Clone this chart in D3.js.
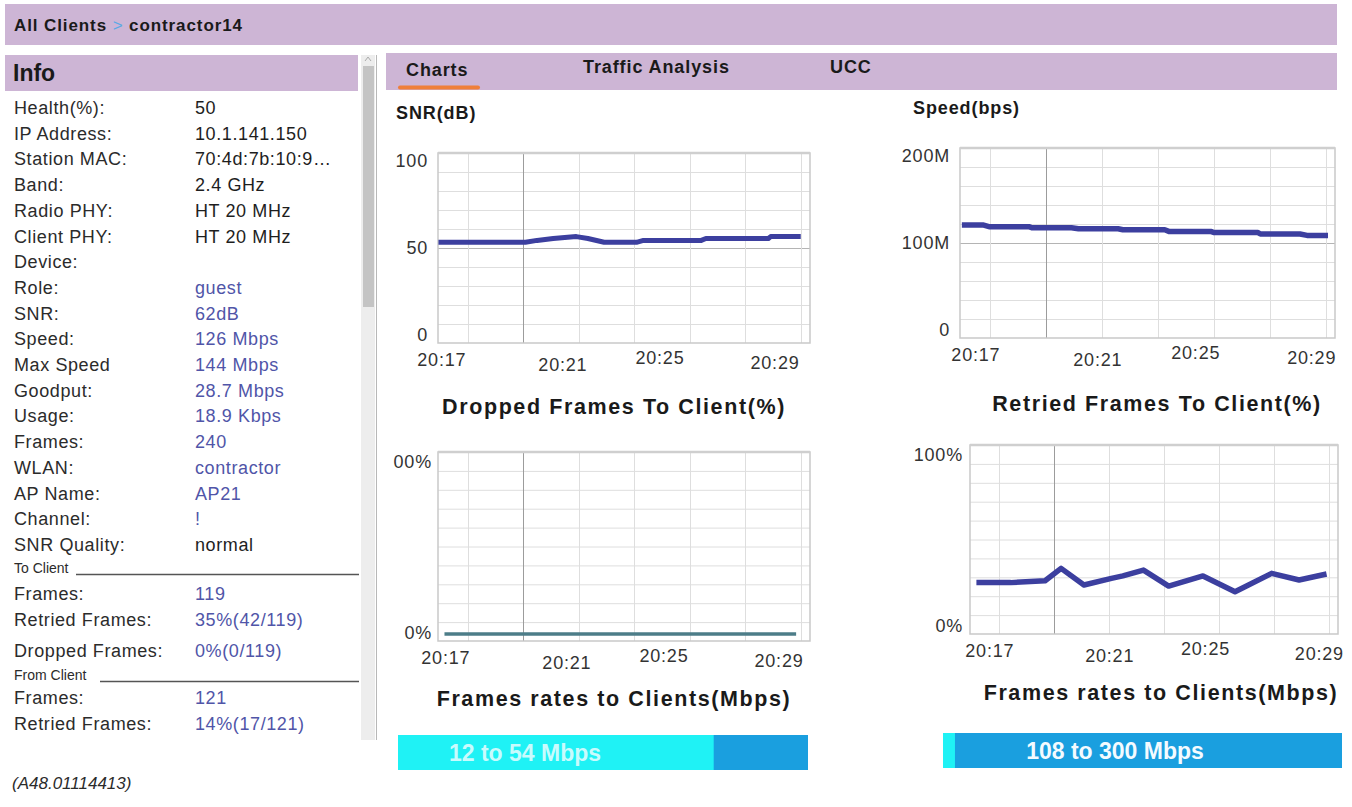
<!DOCTYPE html>
<html>
<head>
<meta charset="utf-8">
<script src="https://cdn.jsdelivr.net/npm/d3@7/dist/d3.min.js"></script>
<style>
    body { margin: 0; background: #fff; }
    svg { display: block; font-family: "Liberation Sans", Arial, sans-serif; }
    .lbl { font-size: 18px; fill: #2b2b2b; letter-spacing: 0.6px; }
    .val { font-size: 18px; fill: #1e1e1e; letter-spacing: 0.6px; }
    .blue { fill: #5055a8; }
    .small { font-size: 14px; fill: #2b2b2b; }
    .tick { font-size: 18px; fill: #333; letter-spacing: 0.8px; }
    .ctitle { font-size: 21.5px; font-weight: bold; fill: #1a1a1a; letter-spacing: 1.6px; }
    .htitle { font-size: 18px; font-weight: bold; fill: #1a1a1a; letter-spacing: 0.9px; }
</style>
</head>
<body>
<svg id="page" width="1352" height="807"></svg>
<script>
var parseT = d3.timeParse("%H:%M:%S");

// left info panel
var info_labels = ["Health(%):", "IP Address:", "Station MAC:", "Band:", "Radio PHY:", "Client PHY:", "Device:", "Role:", "SNR:",
    "Speed:", "Max Speed", "Goodput:", "Usage:", "Frames:", "WLAN:", "AP Name:", "Channel:", "SNR Quality:"];
var info_values = ["50", "10.1.141.150", "70:4d:7b:10:9\u2026", "2.4 GHz", "HT 20 MHz", "HT 20 MHz", "", "guest", "62dB",
    "126 Mbps", "144 Mbps", "28.7 Mbps", "18.9 Kbps", "240", "contractor", "AP21", "!", "normal"];
var to_labels = ["Frames:", "Retried Frames:", "Dropped Frames:"];
var to_values = ["119", "35%(42/119)", "0%(0/119)"];
var from_labels = ["Frames:", "Retried Frames:"];
var from_values = ["121", "14%(17/121)"];

var tabs = ["Charts", "Traffic Analysis", "UCC"];

// chart series
var snr_times = ["20:16:57", "20:20:05", "20:20:30", "20:21:05", "20:21:55", "20:22:20", "20:22:55", "20:24:05", "20:24:20",
    "20:26:25", "20:26:35", "20:28:50", "20:28:55", "20:30:00"];
var snr_values = [53, 53, 54, 55, 56, 55, 53, 53, 54, 54, 55, 55, 56, 56];

var speed_times = ["20:17:00", "20:17:45", "20:18:00", "20:19:25", "20:19:30", "20:20:55", "20:21:10", "20:22:35", "20:22:45",
    "20:24:15", "20:24:25", "20:25:55", "20:26:00", "20:27:35", "20:27:40", "20:29:05", "20:29:20", "20:30:05"];
var speed_values = [119e6, 119e6, 117e6, 117e6, 116e6, 116e6, 115e6, 115e6, 114e6, 114e6, 112e6, 112e6, 111e6, 111e6,
    109.5e6, 109.5e6, 108e6, 108e6];

var dropped_times = ["20:17:10", "20:21:00", "20:25:00", "20:29:50"];
var dropped_values = [0, 0, 0, 0];

var retried_times = ["20:17:10", "20:18:25", "20:19:40", "20:20:15", "20:21:05", "20:22:05", "20:22:30", "20:23:15",
    "20:24:10", "20:25:25", "20:26:35", "20:27:55", "20:28:55", "20:29:55"];
var retried_values = [25.8, 25.8, 26.9, 34.1, 24.4, 28.3, 29.7, 33.1, 23.8, 29.7, 20.5, 31.2, 27.3, 30.8];

var x_ticks = ["20:17:00", "20:21:00", "20:25:00", "20:29:00"];
var grid_times = ["20:18:00", "20:20:00", "20:22:00", "20:24:00", "20:26:00", "20:28:00", "20:30:00"];

var rate_labels = ["12 to 54 Mbps", "108 to 300 Mbps"];
var rate_shares = [0.77, 0.03];

var svg = d3.select("#page");
var lilac = "#cdb5d5";

// header bars
svg.append("rect").attr("x", 5).attr("y", 4).attr("width", 1332).attr("height", 41).attr("fill", lilac);
var crumb = svg.append("text").attr("x", 14).attr("y", 31).attr("class", "htitle").style("font-size", "17px");
crumb.append("tspan").text("All Clients");
crumb.append("tspan").attr("fill", "#5aa9e6").attr("font-weight", "normal").text(" > ");
crumb.append("tspan").text(" contractor14");

svg.append("rect").attr("x", 5).attr("y", 55).attr("width", 353).attr("height", 36).attr("fill", lilac);
svg.append("text").attr("x", 13).attr("y", 81).text("Info")
        .style("font-size", "23px").style("font-weight", "bold").attr("fill", "#1a1a1a");

// scrollbar
svg.append("rect").attr("x", 361).attr("y", 55).attr("width", 14).attr("height", 685).attr("fill", "#ededed");
svg.append("rect").attr("x", 363).attr("y", 66).attr("width", 11).attr("height", 241).attr("fill", "#c4c4c4");
svg.append("path").attr("d", "M365,61 L368,57 L371,61").attr("fill", "none").attr("stroke", "#aaa");
svg.append("line").attr("x1", 376.5).attr("x2", 376.5).attr("y1", 55).attr("y2", 740).attr("stroke", "#b8b8b8");

// info rows
var rowY = d3.scaleLinear().domain([0, info_labels.length - 1]).range([114, 551]);
var rows = info_labels.map(function (l, i) {
    return {label: l, value: info_values[i], blue: i >= 7 && i <= 16};
});
var rowG = svg.append("g");
rowG.selectAll(".lbl").data(rows).enter().append("text")
        .attr("class", "lbl").attr("x", 14).attr("y", function (d, i) { return rowY(i); })
        .text(function (d) { return d.label; });
rowG.selectAll(".val").data(rows).enter().append("text")
        .attr("class", function (d) { return d.blue ? "val blue" : "val"; })
        .attr("x", 195).attr("y", function (d, i) { return rowY(i); })
        .text(function (d) { return d.value; });

function section(title, lineX, y, labels, values, ys) {
    svg.append("text").attr("class", "small").attr("x", 14).attr("y", y).text(title);
    svg.append("line").attr("x1", lineX).attr("x2", 359).attr("y1", y + 1.5).attr("y2", y + 1.5)
            .attr("stroke", "#555").attr("stroke-width", 1.5);
    labels.forEach(function (l, i) {
        svg.append("text").attr("class", "lbl").attr("x", 14).attr("y", ys[i]).text(l);
        svg.append("text").attr("class", "val blue").attr("x", 195).attr("y", ys[i]).text(values[i]);
    });
}
section("To Client", 76, 573, to_labels, to_values, [600, 626, 657]);
section("From Client", 100, 680, from_labels, from_values, [704, 730]);

svg.append("text").attr("x", 12).attr("y", 789).text("(A48.01114413)")
        .style("font-size", "17px").style("font-style", "italic").attr("fill", "#2b2b2b");

// tab bar
svg.append("rect").attr("x", 386).attr("y", 53).attr("width", 951).attr("height", 37).attr("fill", lilac);
var tabX = [406, 583, 830];
var tabY = [76, 73, 73];
svg.selectAll(".tab").data(tabs).enter().append("text")
        .attr("class", "htitle tab").attr("x", function (d, i) { return tabX[i]; })
        .attr("y", function (d, i) { return tabY[i]; }).text(function (d) { return d; });
svg.append("rect").attr("x", 398).attr("y", 85.5).attr("width", 82).attr("height", 4).attr("rx", 2).attr("fill", "#ef7f3a");

// charts
var t0 = parseT("20:16:56"), t1 = parseT("20:30:20");
var labelJitterX = [0, 10, -4, 0];
var labelJitterY = [0, 5, -2, 3];

function drawChart(c) {
    var g = svg.append("g");
    var x = d3.scaleTime().domain([t0, t1]).range([c.left, c.right]);
    var y = d3.scaleLinear().domain(c.yDomain).range([c.bottom - c.padB, c.top + c.padT]);
    var gridY = d3.scaleLinear().domain([0, 10]).range([c.bottom, c.top]);

    g.append("rect").attr("x", c.left).attr("y", c.top)
            .attr("width", c.right - c.left).attr("height", c.bottom - c.top)
            .attr("fill", "#fff");
    g.selectAll(".hg").data(d3.range(1, 10)).enter().append("line")
            .attr("x1", c.left).attr("x2", c.right)
            .attr("y1", function (d) { return gridY(d) + 0.5; }).attr("y2", function (d) { return gridY(d) + 0.5; })
            .attr("stroke", function (d) { return (c.midDark && d === 5) ? "#b4b4b4" : "#dedede"; });
    g.selectAll(".vg").data(grid_times).enter().append("line")
            .attr("x1", function (d) { return Math.round(x(parseT(d))) + 0.5; })
            .attr("x2", function (d) { return Math.round(x(parseT(d))) + 0.5; })
            .attr("y1", c.top).attr("y2", c.bottom)
            .attr("stroke", function (d) { return d === "20:20:00" ? "#9c9c9c" : "#dedede"; });
    g.append("rect").attr("x", c.left).attr("y", c.top)
            .attr("width", c.right - c.left).attr("height", c.bottom - c.top)
            .attr("fill", "none").attr("stroke", "#c9c9c9").attr("stroke-width", 1.5);
    g.append("line").attr("x1", c.left).attr("x2", c.right).attr("y1", c.top).attr("y2", c.top)
            .attr("stroke", "#cfcfcf").attr("stroke-width", 2.5);

    // y labels
    g.selectAll(".yl").data(c.yTicks).enter().append("text")
            .attr("class", "tick").attr("text-anchor", "end")
            .attr("x", c.left - c.yLabelGap)
            .attr("y", function (d) {
                var p = Math.max(c.top + 8, Math.min(c.bottom - 8, y(d)));
                return p + 6;
            })
            .text(function (d, i) { return c.yTickText[i]; });

    // x labels
    g.selectAll(".xl").data(x_ticks).enter().append("text")
            .attr("class", "tick").attr("text-anchor", "middle")
            .attr("x", function (d, i) { return x(parseT(d)) + c.labelDx + labelJitterX[i]; })
            .attr("y", function (d, i) { return c.bottom + 23 + labelJitterY[i]; })
            .text(function (d) { return d.slice(0, 5); });

    var pts = c.times.map(function (t, i) { return {t: parseT(t), v: c.values[i]}; });
    var line = d3.line()
            .x(function (d) { return x(d.t); })
            .y(function (d) { return y(d.v); });
    g.append("path").datum(pts)
            .attr("d", line)
            .attr("fill", "none")
            .attr("stroke", c.color)
            .attr("stroke-width", c.lineWidth)
            .attr("stroke-linejoin", "round");
}

drawChart({left: 438, right: 810, top: 153, bottom: 343, padT: 0, padB: 0, yDomain: [0, 100],
    yTicks: [0, 50, 100], yTickText: ["0", "50", "100"], yLabelGap: 10, labelDx: 2, midDark: true,
    times: snr_times, values: snr_values, color: "#3c3f9f", lineWidth: 5});
drawChart({left: 960, right: 1335, top: 148, bottom: 338, padT: 0, padB: 0, yDomain: [0, 200e6],
    yTicks: [0, 100e6, 200e6], yTickText: ["0", "100M", "200M"], yLabelGap: 10, labelDx: 14, midDark: true,
    times: speed_times, values: speed_values, color: "#3c3f9f", lineWidth: 5.5});
drawChart({left: 438, right: 810, top: 452, bottom: 641, padT: 10, padB: 7, yDomain: [0, 100],
    yTicks: [0, 100], yTickText: ["0%", "00%"], yLabelGap: 6, labelDx: 6, midDark: false,
    times: dropped_times, values: dropped_values, color: "#4c7d88", lineWidth: 3.5});
drawChart({left: 970, right: 1338, top: 445, bottom: 634, padT: 10, padB: 7, yDomain: [0, 100],
    yTicks: [0, 100], yTickText: ["0%", "100%"], yLabelGap: 7, labelDx: 18, midDark: false,
    times: retried_times, values: retried_values, color: "#3c3f9f", lineWidth: 5.5});

// chart titles
svg.append("text").attr("class", "htitle").attr("x", 396).attr("y", 119).text("SNR(dB)");
svg.append("text").attr("class", "htitle").attr("x", 913).attr("y", 114).text("Speed(bps)");
var captions = [
    {text: "Dropped Frames To Client(%)", x: 614, y: 414},
    {text: "Retried Frames To Client(%)", x: 1157, y: 411},
    {text: "Frames rates to Clients(Mbps)", x: 614, y: 706},
    {text: "Frames rates to Clients(Mbps)", x: 1161, y: 700}
];
svg.selectAll(".cap").data(captions).enter().append("text")
        .attr("class", "ctitle cap").attr("text-anchor", "middle")
        .attr("x", function (d) { return d.x; }).attr("y", function (d) { return d.y; })
        .text(function (d) { return d.text; });

// rate bars
var bars = [
    {x0: 398, x1: 808, y: 735, textX: 525, textFill: "#c9fbfd"},
    {x0: 943, x1: 1342, y: 733, textX: 1115, textFill: "#f4fbff"}
];
bars.forEach(function (b, i) {
    var bx = d3.scaleLinear().domain([0, 1]).range([b.x0, b.x1]);
    svg.append("rect").attr("x", b.x0).attr("y", b.y).attr("width", b.x1 - b.x0).attr("height", 35)
            .attr("fill", "#1a9fdf");
    svg.append("rect").attr("x", b.x0).attr("y", b.y).attr("width", bx(rate_shares[i]) - b.x0).attr("height", 35)
            .attr("fill", "#1ff2f5");
    svg.append("text").attr("x", b.textX).attr("y", b.y + 26).attr("text-anchor", "middle")
            .style("font-size", "23px").style("font-weight", "bold")
            .attr("fill", b.textFill).text(rate_labels[i]);
});
</script>
</body>
</html>
